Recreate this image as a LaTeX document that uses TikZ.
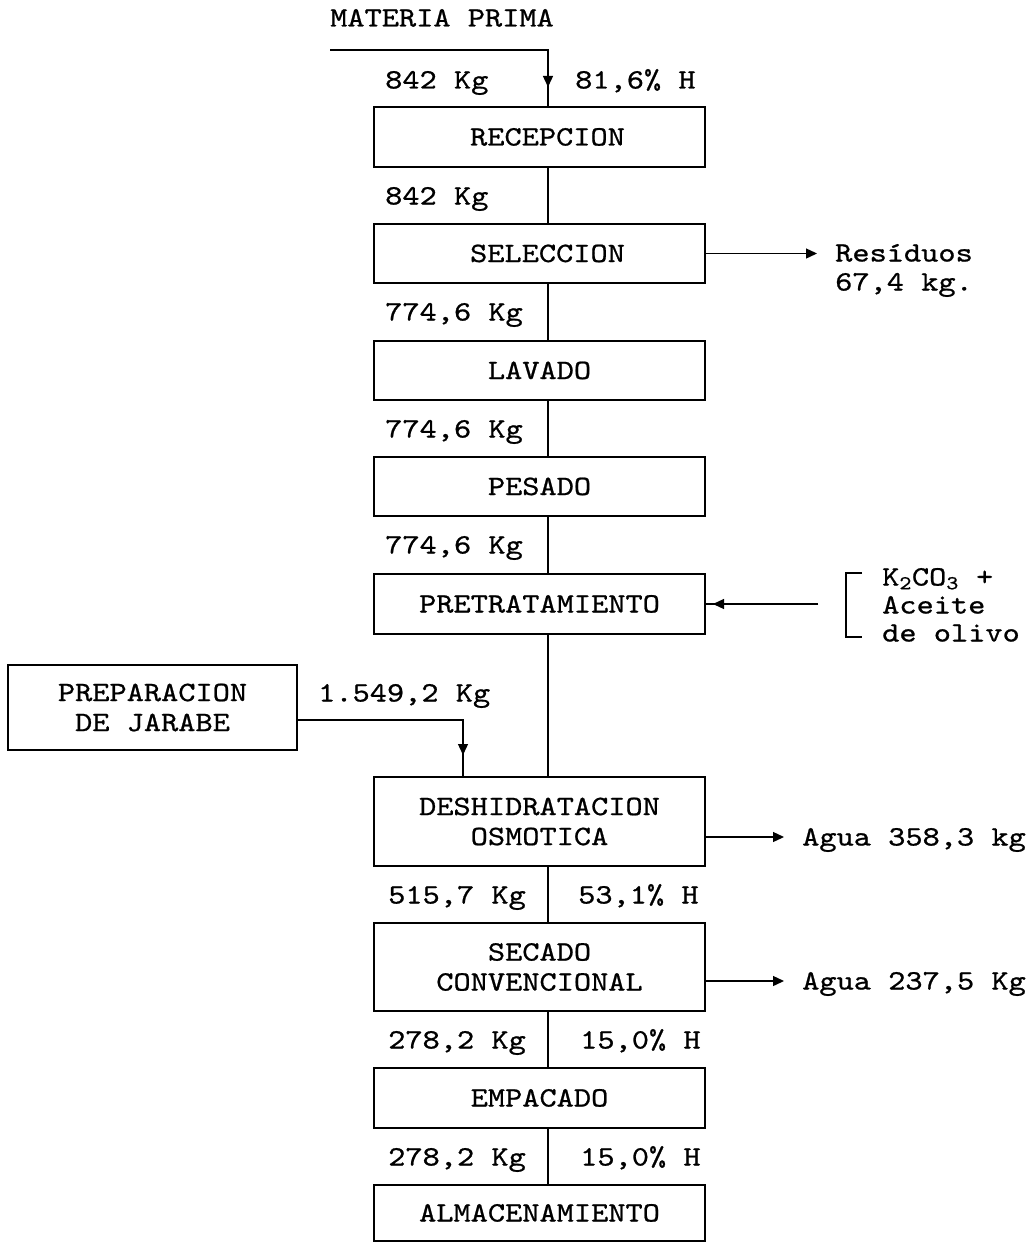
\documentclass[tikz,border=0pt]{standalone}
\usepackage{fontspec}
\newfontfamily\cour{lmmono10-regular.otf}[FakeStretch=1.17, FakeBold=0.8]
\usetikzlibrary{arrows.meta}
\begin{document}
\begin{tikzpicture}[x=1pt,y=-1pt,
  txt/.style={font=\cour\fontsize{28}{30}\selectfont},
  box/.style={txt, draw, line width=1.5pt, minimum width=331pt, inner sep=0pt,
    align=center, text height=17pt, text depth=0pt},
  box2/.style={txt, draw, line width=1.5pt, minimum width=331pt, inner sep=0pt,
    align=center},
  lbl/.style={txt, inner sep=0pt, anchor=west, text height=17pt, text depth=0pt},
  flow/.style={line width=1.3pt},
  tip/.style={-{Triangle[length=11pt,width=10pt]}}]
\useasboundingbox (0,0) rectangle (1029,1244);
\coordinate (spine) at (548,0);
% boxes
\node[box, minimum height=60pt] (rec) at (539.5,137) {\hspace*{16pt}RECEPCION};
\node[box, minimum height=59pt] (sel) at (539.5,253.5) {\hspace*{16pt}SELECCION};
\node[box, minimum height=59pt] (lav) at (539.5,370.5) {LAVADO};
\node[box, minimum height=59pt] (pes) at (539.5,486.5) {PESADO};
\node[box, minimum height=60pt] (pre) at (539.5,604) {PRETRATAMIENTO};
\node[box2, minimum height=89pt] (des) at (539.5,821.5) {DESHIDRATACION\\OSMOTICA};
\node[box2, minimum height=88pt] (sec) at (539.5,967) {SECADO\\CONVENCIONAL};
\node[box, minimum height=60pt] (emp) at (539.5,1098) {EMPACADO};
\node[box, minimum height=56pt] (alm) at (539.5,1213) {ALMACENAMIENTO};
\node[box2, minimum width=289pt, minimum height=85pt] (jar) at (152.5,707.5) {PREPARACION\\DE JARABE};
% top input
\node[lbl] (mpt) at (330,18) {MATERIA PRIMA};
\coordinate (mp) at (330,50);
\coordinate (a1) at (548,87);
\draw[flow] (mp) -- (mp -| spine) -- (rec.north -| spine);
\draw[flow, tip] (mp -| spine) -- (a1);
\node[lbl] (l1) at (385,80) {842 Kg};
\node[lbl] (r1) at (575,80) {81,6\% H};
% spine connectors
\draw[flow] (rec.south -| spine) -- (sel.north -| spine);
\draw[flow] (sel.south -| spine) -- (lav.north -| spine);
\draw[flow] (lav.south -| spine) -- (pes.north -| spine);
\draw[flow] (pes.south -| spine) -- (pre.north -| spine);
\draw[flow] (pre.south -| spine) -- (des.north -| spine);
\draw[flow] (des.south -| spine) -- (sec.north -| spine);
\draw[flow] (sec.south -| spine) -- (emp.north -| spine);
\draw[flow] (emp.south -| spine) -- (alm.north -| spine);
% flow labels
\node[lbl] (l2) at (385,196) {842 Kg};
\node[lbl] (l3) at (385,312) {774,6 Kg};
\node[lbl] (l4) at (385,429) {774,6 Kg};
\node[lbl] (l5) at (385,545) {774,6 Kg};
\node[lbl] (l6) at (388,895) {515,7 Kg};
\node[lbl] (r6) at (578,895) {53,1\% H};
\node[lbl] (l7) at (388,1040) {278,2 Kg};
\node[lbl] (r7) at (580,1040) {15,0\% H};
\node[lbl] (l8) at (388,1157) {278,2 Kg};
\node[lbl] (r8) at (580,1157) {15,0\% H};
% residuos
\coordinate (res) at (817,253.5);
\draw[flow, tip] (sel.east) -- (res);
\node[lbl] (rs1) at (835,253) {Resíduos};
\node[lbl] (rs2) at (835,282) {67,4 kg.};
% pretratamiento input
\coordinate (k) at (818,604);
\coordinate (kt) at (713,604);
\draw[flow] (k) -- (pre.east);
\draw[flow, tip] (k) -- (kt);
\draw[flow] (862,573) -- (846,573) -- (846,637) -- (862,637);
\node[lbl] (k1) at (882,577) {K\textsubscript{2}CO\textsubscript{3} +};
\node[lbl] (k2) at (882,605) {Aceite};
\node[lbl] (k3) at (882,633) {de olivo};
% jarabe
\coordinate (j) at (463,720);
\coordinate (jt) at (463,755);
\draw[flow] (jar.east |- j) -- (j) -- (j |- des.north);
\draw[flow, tip] (j) -- (jt);
\node[lbl] (jl) at (318,693) {1.549,2 Kg};
% agua outputs
\coordinate (w1) at (784,837);
\draw[flow, tip] (w1 -| des.east) -- (w1);
\node[lbl] (a1t) at (802,837) {Agua 358,3 kg};
\coordinate (w2) at (784,981);
\draw[flow, tip] (w2 -| sec.east) -- (w2);
\node[lbl] (a2t) at (802,981) {Agua 237,5 Kg};
\end{tikzpicture}
\end{document}
